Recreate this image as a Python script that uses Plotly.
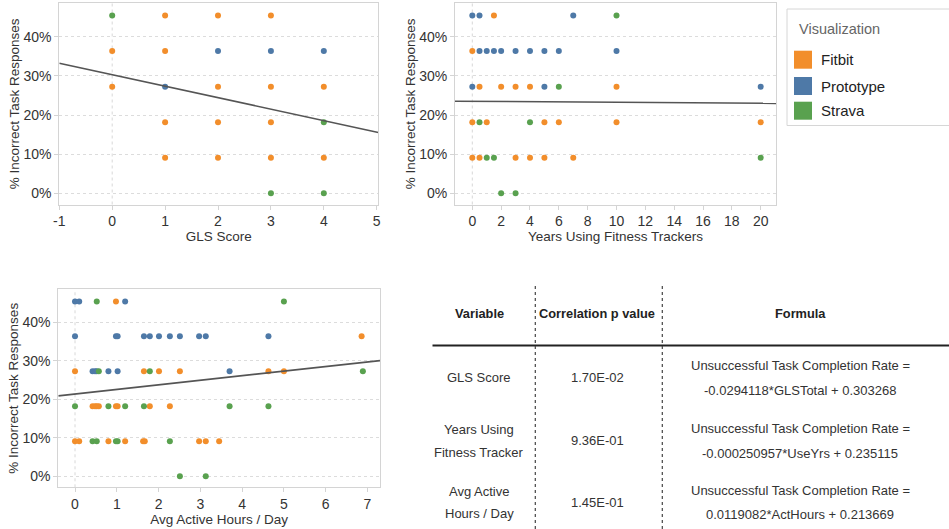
import plotly.graph_objects as go

W, H = 949, 529

# ---------------- data ----------------
series_names = ["Fitbit", "Prototype", "Strava"]
series_colors = ["#F28E2B", "#4E79A7", "#59A14F"]

# GLS score chart
gls_fitbit_x = [0, 0, 1, 1, 1, 1, 2, 2, 2, 2, 3, 3, 3, 3, 4, 4]
gls_fitbit_y = [0.3636, 0.2727, 0.4545, 0.3636, 0.1818, 0.0909, 0.4545, 0.2727, 0.1818, 0.0909,
                0.4545, 0.2727, 0.1818, 0.0909, 0.2727, 0.0909]
gls_proto_x = [1, 2, 3, 4]
gls_proto_y = [0.2727, 0.3636, 0.3636, 0.3636]
gls_strava_x = [0, 3, 4, 4]
gls_strava_y = [0.4545, 0.0, 0.1818, 0.0]

# Years using fitness trackers chart
yrs_fitbit_x = [1.5, 0, 0.5, 2, 3, 4, 10, 0, 1, 5, 6, 10, 20, 0, 0.5, 3, 4, 5, 7]
yrs_fitbit_y = [0.4545, 0.3636, 0.2727, 0.2727, 0.2727, 0.2727, 0.2727, 0.1818, 0.1818, 0.1818,
                0.1818, 0.1818, 0.1818, 0.0909, 0.0909, 0.0909, 0.0909, 0.0909, 0.0909]
yrs_proto_x = [0, 0.5, 7, 0.5, 1, 1.5, 2, 3, 4, 5, 6, 10, 0, 5, 20]
yrs_proto_y = [0.4545, 0.4545, 0.4545, 0.3636, 0.3636, 0.3636, 0.3636, 0.3636, 0.3636, 0.3636,
               0.3636, 0.3636, 0.2727, 0.2727, 0.2727]
yrs_strava_x = [10, 6, 0.5, 4, 1, 1.5, 20, 2, 3]
yrs_strava_y = [0.4545, 0.2727, 0.1818, 0.1818, 0.0909, 0.0909, 0.0909, 0.0, 0.0]

# Avg active hours chart
act_fitbit_x = [0.98, 6.86, 0, 1.65, 2.01, 2.51, 4.63, 5.0, 0.42, 0.48, 0.52, 0.57, 0.98, 1.02,
                1.79, 2.27, 0, 0.1, 0.8, 1.2, 1.63, 1.67, 2.97, 3.13, 3.45]
act_fitbit_y = [0.4545, 0.3636, 0.2727, 0.2727, 0.2727, 0.2727, 0.2727, 0.2727, 0.1818, 0.1818,
                0.1818, 0.1818, 0.1818, 0.1818, 0.1818, 0.1818, 0.0909, 0.0909, 0.0909, 0.0909,
                0.0909, 0.0909, 0.0909, 0.0909, 0.0909]
act_proto_x = [0, 0.1, 1.2, 0, 0.98, 1.02, 1.65, 1.79, 2.01, 2.27, 2.51, 2.97, 3.13, 4.63,
               0.42, 0.48, 0.52, 0.8, 1.02, 3.7]
act_proto_y = [0.4545, 0.4545, 0.4545, 0.3636, 0.3636, 0.3636, 0.3636, 0.3636, 0.3636, 0.3636,
               0.3636, 0.3636, 0.3636, 0.3636, 0.2727, 0.2727, 0.2727, 0.2727, 0.2727, 0.2727]
act_strava_x = [0.52, 5.0, 0.57, 1.79, 6.89, 0, 0.8, 1.2, 1.65, 3.7, 4.63, 0.42, 0.52, 0.98,
                1.02, 2.27, 2.51, 3.13]
act_strava_y = [0.4545, 0.4545, 0.2727, 0.2727, 0.2727, 0.1818, 0.1818, 0.1818, 0.1818, 0.1818,
                0.1818, 0.0909, 0.0909, 0.0909, 0.0909, 0.0909, 0.0, 0.0]

# regression coefficients (slope, intercept)
gls_fit = (-0.0294118, 0.303268)
yrs_fit = (-0.000250957, 0.235115)
act_fit = (0.0119082, 0.213669)

# axis ranges and ticks
gls_range = [-1, 5.03]
gls_ticks = [-1, 0, 1, 2, 3, 4, 5]
gls_ticktext = ["-1", "0", "1", "2", "3", "4", "5"]
yrs_range = [-1.2, 21.06]
yrs_ticks = [0, 2, 4, 6, 8, 10, 12, 14, 16, 18, 20]
act_range = [-0.4, 7.3]
act_ticks = [0, 1, 2, 3, 4, 5, 6, 7]
y_ticks = [0, 0.1, 0.2, 0.3, 0.4]
y_range = [-0.029, 0.486]

x_titles = ["GLS Score", "Years Using Fitness Trackers", "Avg Active Hours / Day"]
y_title = "% Incorrect Task Responses"

# table
table_header = ["Variable", "Correlation p value", "Formula"]
table_variable = [["GLS Score"], ["Years Using", "Fitness Tracker"], ["Avg Active", "Hours / Day"]]
table_pvalue = ["1.70E-02", "9.36E-01", "1.45E-01"]
table_formula = [["Unsuccessful Task Completion Rate =", "-0.0294118*GLSTotal + 0.303268"],
                 ["Unsuccessful Task Completion Rate =", "-0.000250957*UseYrs + 0.235115"],
                 ["Unsuccessful Task Completion Rate =", "0.0119082*ActHours + 0.213669"]]
legend_title = "Visualization"

# ---------------- helpers ----------------
def px(x):
    return x / W

def py(y):
    return 1 - y / H

FONT = "Liberation Sans, Arial, sans-serif"
TXT = "#333333"

fig = go.Figure()

charts = [
    ("x", "y", [(gls_fitbit_x, gls_fitbit_y), (gls_proto_x, gls_proto_y), (gls_strava_x, gls_strava_y)], gls_fit, gls_range),
    ("x2", "y2", [(yrs_fitbit_x, yrs_fitbit_y), (yrs_proto_x, yrs_proto_y), (yrs_strava_x, yrs_strava_y)], yrs_fit, yrs_range),
    ("x3", "y3", [(act_fitbit_x, act_fitbit_y), (act_proto_x, act_proto_y), (act_strava_x, act_strava_y)], act_fit, act_range),
]

for xa, ya, sers, fit, rng in charts:
    for (sx, sy), name, col in zip(sers, series_names, series_colors):
        fig.add_trace(go.Scatter(x=sx, y=sy, mode="markers", name=name, xaxis=xa, yaxis=ya,
                                 marker=dict(color=col, size=6, line=dict(width=0)),
                                 showlegend=False))
    m, b = fit
    fig.add_trace(go.Scatter(x=rng, y=[m * rng[0] + b, m * rng[1] + b], mode="lines",
                             xaxis=xa, yaxis=ya, line=dict(color="#555555", width=1.6),
                             showlegend=False, hoverinfo="skip"))
    # dotted zero reference line at x=0
    fig.add_shape(type="line", xref=xa, yref=ya + " domain", x0=0, x1=0, y0=0, y1=1,
                  line=dict(color="#d8d8d8", width=1, dash="dot"), layer="below")

axis_common = dict(showline=True, mirror=True, linecolor="#d4d4d4", linewidth=1,
                   ticks="outside", ticklen=4, tickcolor="#d4d4d4", automargin=False,
                   tickfont=dict(family=FONT, size=14, color=TXT), zeroline=False)

def xaxis(domain, rng, tickvals, ticktext, title, anchor):
    return dict(domain=domain, range=rng, tickvals=tickvals, ticktext=ticktext,
                showgrid=False, anchor=anchor,
                title=dict(text=title, font=dict(family=FONT, size=13.5, color=TXT), standoff=2),
                **axis_common)

def yaxis(domain, anchor):
    return dict(domain=domain, range=y_range, tickvals=y_ticks, tickformat=".0%",
                showgrid=True, gridcolor="#dcdcdc", griddash="dot", anchor=anchor,
                title=dict(text=y_title, font=dict(family=FONT, size=13.5, color=TXT), standoff=0),
                **axis_common)

top_dom = [py(204.5), py(3.3)]
bot_dom = [py(487.3), py(289.3)]

fig.update_layout(
    width=W, height=H, margin=dict(l=0, r=0, t=0, b=0, autoexpand=False),
    paper_bgcolor="white", plot_bgcolor="white",
    xaxis=xaxis([px(59.3), px(378.3)], gls_range, gls_ticks, gls_ticktext, x_titles[0], "y"),
    yaxis=yaxis(top_dom, "x"),
    xaxis2=xaxis([px(455), px(776)], yrs_range, yrs_ticks, [str(t) for t in yrs_ticks], x_titles[1], "y2"),
    yaxis2=yaxis(top_dom, "x2"),
    xaxis3=xaxis([px(58.3), px(380)], act_range, act_ticks, [str(t) for t in act_ticks], x_titles[2], "y3"),
    yaxis3=yaxis(bot_dom, "x3"),
    showlegend=False,
)

shapes = []
annotations = []

# ---------------- legend (manual) ----------------
shapes.append(dict(type="rect", xref="paper", yref="paper", x0=px(787), x1=px(960),
                   y0=py(125.5), y1=py(9), line=dict(color="#d6d6d6", width=1), fillcolor="white"))
annotations.append(dict(text=legend_title, xref="paper", yref="paper", x=px(797), y=py(29.5),
                        xanchor="left", yanchor="middle", showarrow=False,
                        font=dict(family=FONT, size=14.5, color="#666666")))
leg_centers = [59.7, 86.0, 110.7]
for name, col, cy in zip(series_names, series_colors, leg_centers):
    shapes.append(dict(type="rect", xref="paper", yref="paper", x0=px(794), x1=px(812),
                       y0=py(cy + 9), y1=py(cy - 9), line=dict(width=0), fillcolor=col))
    annotations.append(dict(text=name, xref="paper", yref="paper", x=px(819), y=py(cy),
                            xanchor="left", yanchor="middle", showarrow=False,
                            font=dict(family=FONT, size=15, color="#222222")))

# ---------------- table ----------------
col_x = [479, 597, 800]
for cx, h in zip(col_x, table_header):
    annotations.append(dict(text="<b>" + h + "</b>", xref="paper", yref="paper", x=px(cx), y=py(313),
                            xanchor="center", yanchor="middle", showarrow=False,
                            font=dict(family=FONT, size=12.8, color="#222222")))
shapes.append(dict(type="line", xref="paper", yref="paper", x0=px(432.5), x1=1.01, y0=py(345.5), y1=py(345.5),
                   line=dict(color="#222222", width=2)))
for vx in [535.3, 662.3]:
    shapes.append(dict(type="line", xref="paper", yref="paper", x0=px(vx), x1=px(vx), y0=py(529), y1=py(283),
                       line=dict(color="#444444", width=1.2, dash="dot")))

row_mid = [377.7, 440.7, 502.0]
for i, mid in enumerate(row_mid):
    var_lines = table_variable[i]
    if len(var_lines) == 1:
        ys = [mid]
    else:
        ys = [mid - 11, mid + 11.5]
    for t, yy in zip(var_lines, ys):
        annotations.append(dict(text=t, xref="paper", yref="paper", x=px(479), y=py(yy),
                                xanchor="center", yanchor="middle", showarrow=False,
                                font=dict(family=FONT, size=13, color=TXT)))
    annotations.append(dict(text=table_pvalue[i], xref="paper", yref="paper", x=px(597), y=py(mid),
                            xanchor="center", yanchor="middle", showarrow=False,
                            font=dict(family=FONT, size=13, color=TXT)))
    for t, yy in zip(table_formula[i], [mid - 12, mid + 12.3]):
        annotations.append(dict(text=t, xref="paper", yref="paper", x=px(800), y=py(yy),
                                xanchor="center", yanchor="middle", showarrow=False,
                                font=dict(family=FONT, size=13, color=TXT)))

fig.update_layout(shapes=list(fig.layout.shapes) + shapes, annotations=annotations)

fig.write_html("out.html", config={"displayModeBar": False},
               post_script="document.body.style.margin='0';document.body.style.overflow='hidden';")
